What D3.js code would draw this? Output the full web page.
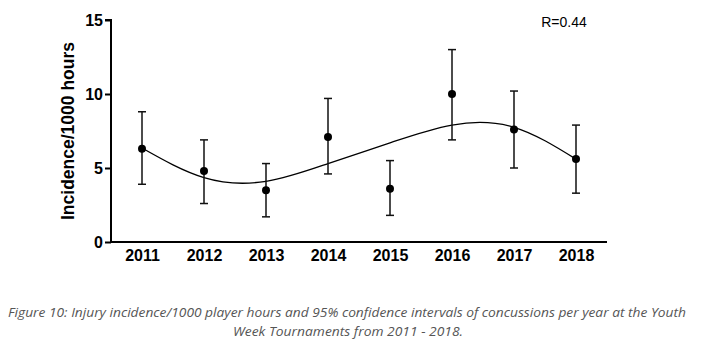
<!DOCTYPE html>
<html lang="en">
<head>
<meta charset="UTF-8">
<title>Concussion incidence</title>
<style>
  body { margin: 0; background: #fff; }
  svg { display: block; }
</style>
</head>
<body>
<script src="https://cdn.jsdelivr.net/npm/d3@7"></script>
<script>
  // data
  const years = ['2011', '2012', '2013', '2014', '2015', '2016', '2017', '2018'];
  const incidence = [6.3, 4.8, 3.5, 7.1, 3.6, 10.0, 7.6, 5.6];
  const ciLow = [3.9, 2.6, 1.7, 4.6, 1.8, 6.9, 5.0, 3.3];
  const ciHigh = [8.8, 6.9, 5.3, 9.7, 5.5, 13.0, 10.2, 7.9];
  const trend = [6.35, 4.35, 4.1, 5.3, 6.7, 7.9, 7.75, 5.6];
  const yTicks = [0, 5, 10, 15];

  const width = 704, height = 352;
  const svg = d3.select('body').append('svg')
    .attr('width', width).attr('height', height);

  const x = d3.scalePoint().domain(years).range([111, 607]).padding(0.5);
  const y = d3.scaleLinear().domain([0, 15]).range([242, 20]);

  // y axis
  const yAxis = svg.append('g')
    .attr('transform', 'translate(111,0)')
    .call(d3.axisLeft(y).tickValues(yTicks).tickSize(6).tickPadding(2));
  yAxis.select('.domain').attr('stroke', '#000').attr('stroke-width', 2).attr('d', `M-6,${y(15)}H0V${y(0)}`);
  yAxis.selectAll('.tick line').attr('stroke-width', 2);
  yAxis.selectAll('.tick text')
    .attr('font-family', 'Liberation Sans, Arial, sans-serif')
    .attr('font-size', 16).attr('font-weight', 'bold').attr('fill', '#000');

  // x axis, no ticks
  const xAxis = svg.append('g')
    .attr('transform', `translate(0,${y(0)})`)
    .call(d3.axisBottom(x).tickSize(0).tickPadding(8));
  xAxis.select('.domain').attr('stroke', '#000').attr('stroke-width', 2).attr('d', `M110,0H607`);
  xAxis.selectAll('.tick text')
    .attr('font-family', 'Liberation Sans, Arial, sans-serif')
    .attr('font-size', 16).attr('font-weight', 'bold').attr('fill', '#000');

  svg.append('text')
    .attr('transform', `translate(74,${(y(0) + y(15)) / 2}) rotate(-90)`)
    .attr('text-anchor', 'middle')
    .attr('font-family', 'Liberation Sans, Arial, sans-serif')
    .attr('font-size', 17.5).attr('font-weight', 'bold')
    .text('Incidence/1000 hours');

  // fitted curve
  const line = d3.line()
    .x((d, i) => x(years[i]))
    .y(d => y(d))
    .curve(d3.curveNatural);
  svg.append('path')
    .datum(trend)
    .attr('d', line)
    .attr('fill', 'none').attr('stroke', '#000').attr('stroke-width', 1.3);

  // error bars
  const bars = svg.append('g').selectAll('g').data(years).join('g')
    .attr('stroke', '#111').attr('stroke-width', 1.5);
  bars.append('line')
    .attr('x1', d => x(d)).attr('x2', d => x(d))
    .attr('y1', (d, i) => y(ciLow[i])).attr('y2', (d, i) => y(ciHigh[i]));
  bars.append('line')
    .attr('x1', d => x(d) - 4).attr('x2', d => x(d) + 4)
    .attr('y1', (d, i) => y(ciHigh[i])).attr('y2', (d, i) => y(ciHigh[i]));
  bars.append('line')
    .attr('x1', d => x(d) - 4).attr('x2', d => x(d) + 4)
    .attr('y1', (d, i) => y(ciLow[i])).attr('y2', (d, i) => y(ciLow[i]));

  svg.append('g').selectAll('circle').data(incidence).join('circle')
    .attr('cx', (d, i) => x(years[i]))
    .attr('cy', d => y(d))
    .attr('r', 4)
    .attr('fill', '#000');

  svg.append('text')
    .attr('x', 564).attr('y', 27)
    .attr('text-anchor', 'middle')
    .attr('font-family', 'Liberation Sans, Arial, sans-serif')
    .attr('font-size', 14)
    .text('R=0.44');

  // caption
  const caption = svg.append('g')
    .attr('font-family', 'Open Sans, sans-serif')
    .attr('font-style', 'italic')
    .attr('font-size', 12.5)
    .attr('fill', '#555')
    .attr('text-anchor', 'middle');
  caption.append('text')
    .attr('x', 347).attr('y', 317)
    .attr('textLength', 678).attr('lengthAdjust', 'spacingAndGlyphs')
    .text('Figure 10: Injury incidence/1000 player hours and 95% confidence intervals of concussions per year at the Youth');
  caption.append('text')
    .attr('x', 233).attr('y', 336)
    .attr('text-anchor', 'start')
    .attr('textLength', 230).attr('lengthAdjust', 'spacingAndGlyphs')
    .text('Week Tournaments from 2011 - 2018.');
</script>
</body>
</html>
